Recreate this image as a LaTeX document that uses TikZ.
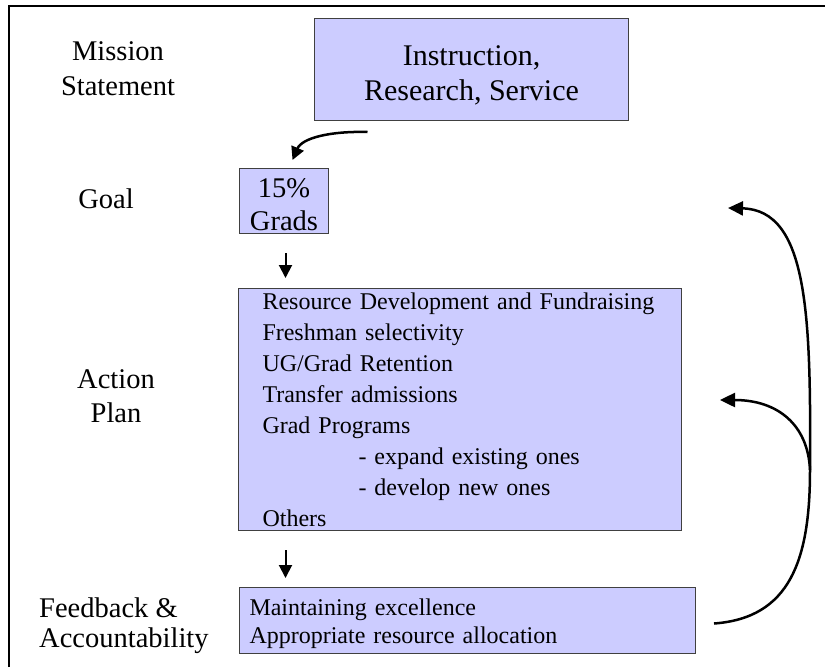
\documentclass[tikz,border=0pt]{standalone}
\usepackage{fontspec}
\setmainfont{Liberation Serif}
\usetikzlibrary{arrows.meta,calc}
\definecolor{boxfill}{HTML}{CCCCFF}
\definecolor{boxline}{HTML}{404040}
\begin{document}
\begin{tikzpicture}[x=1pt,y=-1pt,
  box/.style={draw=boxline, line width=1pt, fill=boxfill, inner sep=0pt, anchor=north west},
  lbl/.style={inner sep=0pt, font=\fontsize{28.5}{35}\selectfont},
  arr/.style={line width=2pt, -{Triangle[length=13pt,width=13pt]}},
  carr/.style={line width=2.5pt, -{Triangle[length=15pt,width=14pt]}}]
\useasboundingbox (0,0) rectangle (825,667);
\draw[line width=2pt] (9,667) -- (9,6) -- (825,6);

% boxes
\node[box, minimum width=314pt, minimum height=102pt, align=center,
      font=\fontsize{30}{35}\selectfont] (mission) at (314,18)
  {\rule{0pt}{31pt}Instruction,\\Research, Service};
\node[box, minimum width=89pt, minimum height=65pt, align=center,
      font=\fontsize{28.5}{33}\selectfont] (goal) at (239,168)
  {\rule{0pt}{26pt}15\%\\Grads};
\node[box, minimum width=443pt, minimum height=242pt, inner xsep=24pt,
      text width=395pt, align=left, font=\fontsize{24}{31}\selectfont] (action) at (238,288)
  {Resource Development and Fundraising\\
   Freshman selectivity\\
   UG/Grad Retention\\
   Transfer admissions\\
   Grad Programs\\
   \hspace*{96pt}- expand existing ones\\
   \hspace*{96pt}- develop new ones\\
   Others};
\node[box, minimum width=456pt, minimum height=66pt, inner xsep=10pt,
      text width=436pt, align=left, font=\fontsize{24}{28}\selectfont] (feedback) at (239,587)
  {\rule{0pt}{23pt}Maintaining excellence\\Appropriate resource allocation};

% labels
\node[lbl, align=center] (lmission) at (118,69) {Mission\\Statement};
\node[lbl, anchor=base] (lgoal) at (106,208) {Goal};
\node[lbl, align=center, font=\fontsize{28.5}{34}\selectfont] (lplan) at (116,396) {Action\\Plan};
\node[lbl, align=left, anchor=west, font=\fontsize{28.5}{30}\selectfont] (lfeed) at (39,626)
  {Feedback \&\\Accountability};

% connectors
\coordinate (ms) at ($(mission.south)+(-104,11)$);
\draw[arr, line width=2.5pt] (ms) .. controls (330,131) and (302,138) .. ($(goal.north)+(8.5,-8)$);
\draw[arr] ($(goal.south)+(1.5,19)$) -- ($(goal.south |- action.north)+(1.5,-10)$);
\draw[arr] ($(goal.south |- action.south)+(1.5,19)$) -- ($(goal.south |- feedback.north)+(1.5,-9)$);

\coordinate (fb) at ($(feedback.east)+(18,3)$);
\coordinate (j) at (810,470);
\coordinate (tg) at (728,208);
\coordinate (ta) at (720,400);
\draw[carr] (fb) .. controls (790,618) and (810,560) .. (j) .. controls (811,315) and (808,210) .. (tg);
\draw[carr] (j) .. controls (808,425) and (778,400) .. (ta);
\end{tikzpicture}
\end{document}
